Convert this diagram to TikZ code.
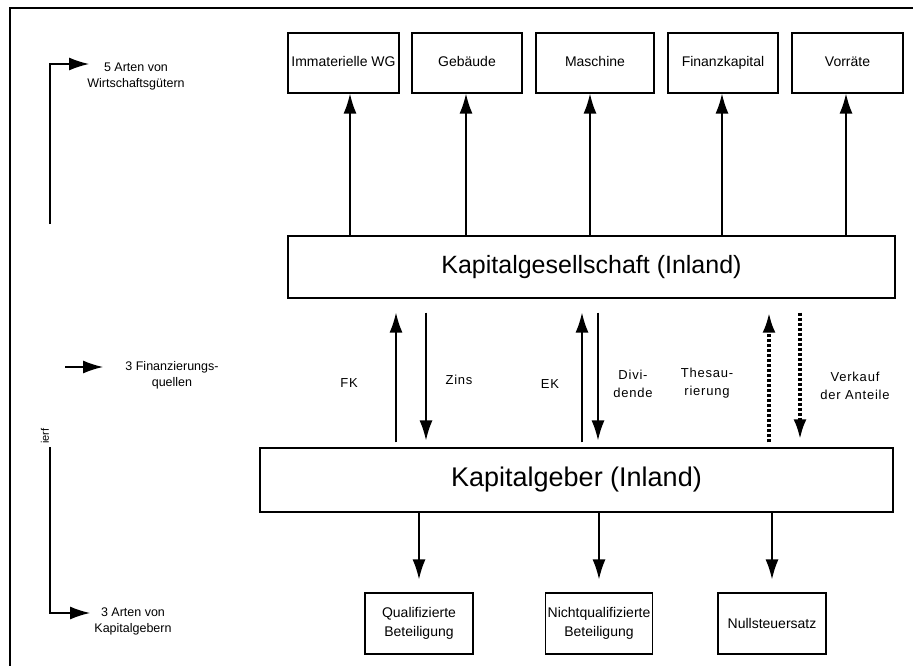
\documentclass[tikz,border=0pt]{standalone}
\usepackage{fontspec}
\setmainfont{Liberation Sans}
\usetikzlibrary{arrows.meta}
\begin{document}
\begin{tikzpicture}[x=1pt,y=-1pt,
  wgbox/.style={draw,line width=1.3pt,minimum height=60pt,inner sep=0pt,text height=10pt,text depth=3pt,font=\fontsize{14}{16}\selectfont},
  bigbox/.style={draw,line width=1.3pt,inner sep=0pt,text height=18pt,text depth=6pt},
  botbox/.style={draw,line width=1.3pt,minimum height=61pt,inner sep=0pt,align=center,font=\fontsize{14}{18.5}\selectfont},
  arr/.style={line width=1.4pt,-{Latex[length=20pt,width=13pt]}},
  dotarr/.style={line width=3.4pt,dash pattern=on 3pt off 2pt,-{Latex[length=20pt,width=13pt]}},
  lab/.style={align=center,inner sep=0pt,font=\fontsize{12.5}{16}\selectfont},
  flab/.style={align=center,inner sep=0pt,font=\fontsize{13}{17.5}\selectfont\addfontfeatures{LetterSpace=6}},
  frame/.style={line width=1.5pt}
]
\useasboundingbox (0,0) rectangle (913,666);

% frame
\coordinate (fr1) at (913,8);
\coordinate (fr2) at (10,8);
\coordinate (fr3) at (10,666);
\draw[frame] (fr1) -- (fr2) -- (fr3);

% top boxes
\node[wgbox,minimum width=111pt] (imm) at (343.5,63) {Immaterielle WG};
\node[wgbox,minimum width=110pt] (geb) at (467,63) {Gebäude};
\node[wgbox,minimum width=118pt] (mas) at (595,63) {Maschine};
\node[wgbox,minimum width=110pt] (fin) at (723,63) {Finanzkapital};
\node[wgbox,minimum width=111pt] (vor) at (847.5,63) {Vorräte};

% main boxes
\node[bigbox,minimum width=607pt,minimum height=62pt,font=\fontsize{25}{30}\selectfont] (kg) at (591.5,267) {Kapitalgesellschaft (Inland)};
\node[bigbox,minimum width=633pt,minimum height=64pt,font=\fontsize{27}{32}\selectfont] (kgb) at (576.5,480) {Kapitalgeber (Inland)};

% bottom boxes
\node[botbox,minimum width=108pt] (qb) at (419,623.5) {Qualifizierte\\Beteiligung};
\node[botbox,minimum width=107pt] (nb) at (599,623.5) {Nichtqualifizierte\\Beteiligung};
\node[botbox,minimum width=108pt] (zb) at (772,623.5) {Nullsteuersatz};

% column coordinates
\coordinate (c1) at (350,0);
\coordinate (c2) at (466,0);
\coordinate (c3) at (590,0);
\coordinate (c4) at (722,0);
\coordinate (c5) at (846,0);
\coordinate (cfk) at (396,0);
\coordinate (czi) at (426,0);
\coordinate (cek) at (582,0);
\coordinate (cdi) at (598,0);
\coordinate (cth) at (769,0);
\coordinate (cve) at (800,0);

% arrows up to the goods
\draw[arr] (kg.north -| c1) -- (imm.south -| c1);
\draw[arr] (kg.north -| c2) -- (geb.south -| c2);
\draw[arr] (kg.north -| c3) -- (mas.south -| c3);
\draw[arr] (kg.north -| c4) -- (fin.south -| c4);
\draw[arr] (kg.north -| c5) -- (vor.south -| c5);

% financing flows
\draw[arr,shorten <=5pt,shorten >=14pt] (kgb.north -| cfk) -- (kg.south -| cfk);
\draw[arr,shorten <=14pt,shorten >=7pt] (kg.south -| czi) -- (kgb.north -| czi);
\draw[arr,shorten <=5pt,shorten >=14pt] (kgb.north -| cek) -- (kg.south -| cek);
\draw[arr,shorten <=14pt,shorten >=7pt] (kg.south -| cdi) -- (kgb.north -| cdi);
\draw[dotarr,shorten <=5pt,shorten >=14pt] (kgb.north -| cth) -- (kg.south -| cth);
\draw[dotarr,shorten <=14pt,shorten >=8pt] (kg.south -| cve) -- (kgb.north -| cve);

\node[flab] (lfk) at (349,383) {FK};
\node[flab] (lzi) at (459,380) {Zins};
\node[flab] (lek) at (550,384) {EK};
\node[flab] (ldi) at (633,384) {Divi-\\dende};
\node[flab] (lth) at (707,383) {Thesau-\\rierung};
\node[flab] (lve) at (855,386) {Verkauf\\der Anteile};

% arrows down to investor types
\draw[arr,shorten >=13pt] (kgb.south -| qb) -- (qb.north);
\draw[arr,shorten >=13pt] (kgb.south -| nb) -- (nb.north);
\draw[arr,shorten >=13pt] (kgb.south -| zb) -- (zb.north);

% left legend
\coordinate (l1b) at (50,224);
\coordinate (l1e) at (89,64);
\draw[arr] (l1b) |- (l1e);
\node[lab] (t1) at (136,76) {5 Arten von\\Wirtschaftsgütern};

\coordinate (l2s) at (65,367);
\coordinate (l2e) at (103,367);
\draw[arr] (l2s) -- (l2e);
\node[lab] (t2) at (172,375) {3 Finanzierungs-\\quellen};

\node[rotate=90,inner sep=0pt,font=\fontsize{11}{11}\selectfont] (ierf) at (45,436) {ierf};
\coordinate (l3s) at (50,447);
\coordinate (l3e) at (90,613);
\draw[arr] (l3s) |- (l3e);
\node[lab] (t3) at (133,621) {3 Arten von\\Kapitalgebern};
\end{tikzpicture}
\end{document}
